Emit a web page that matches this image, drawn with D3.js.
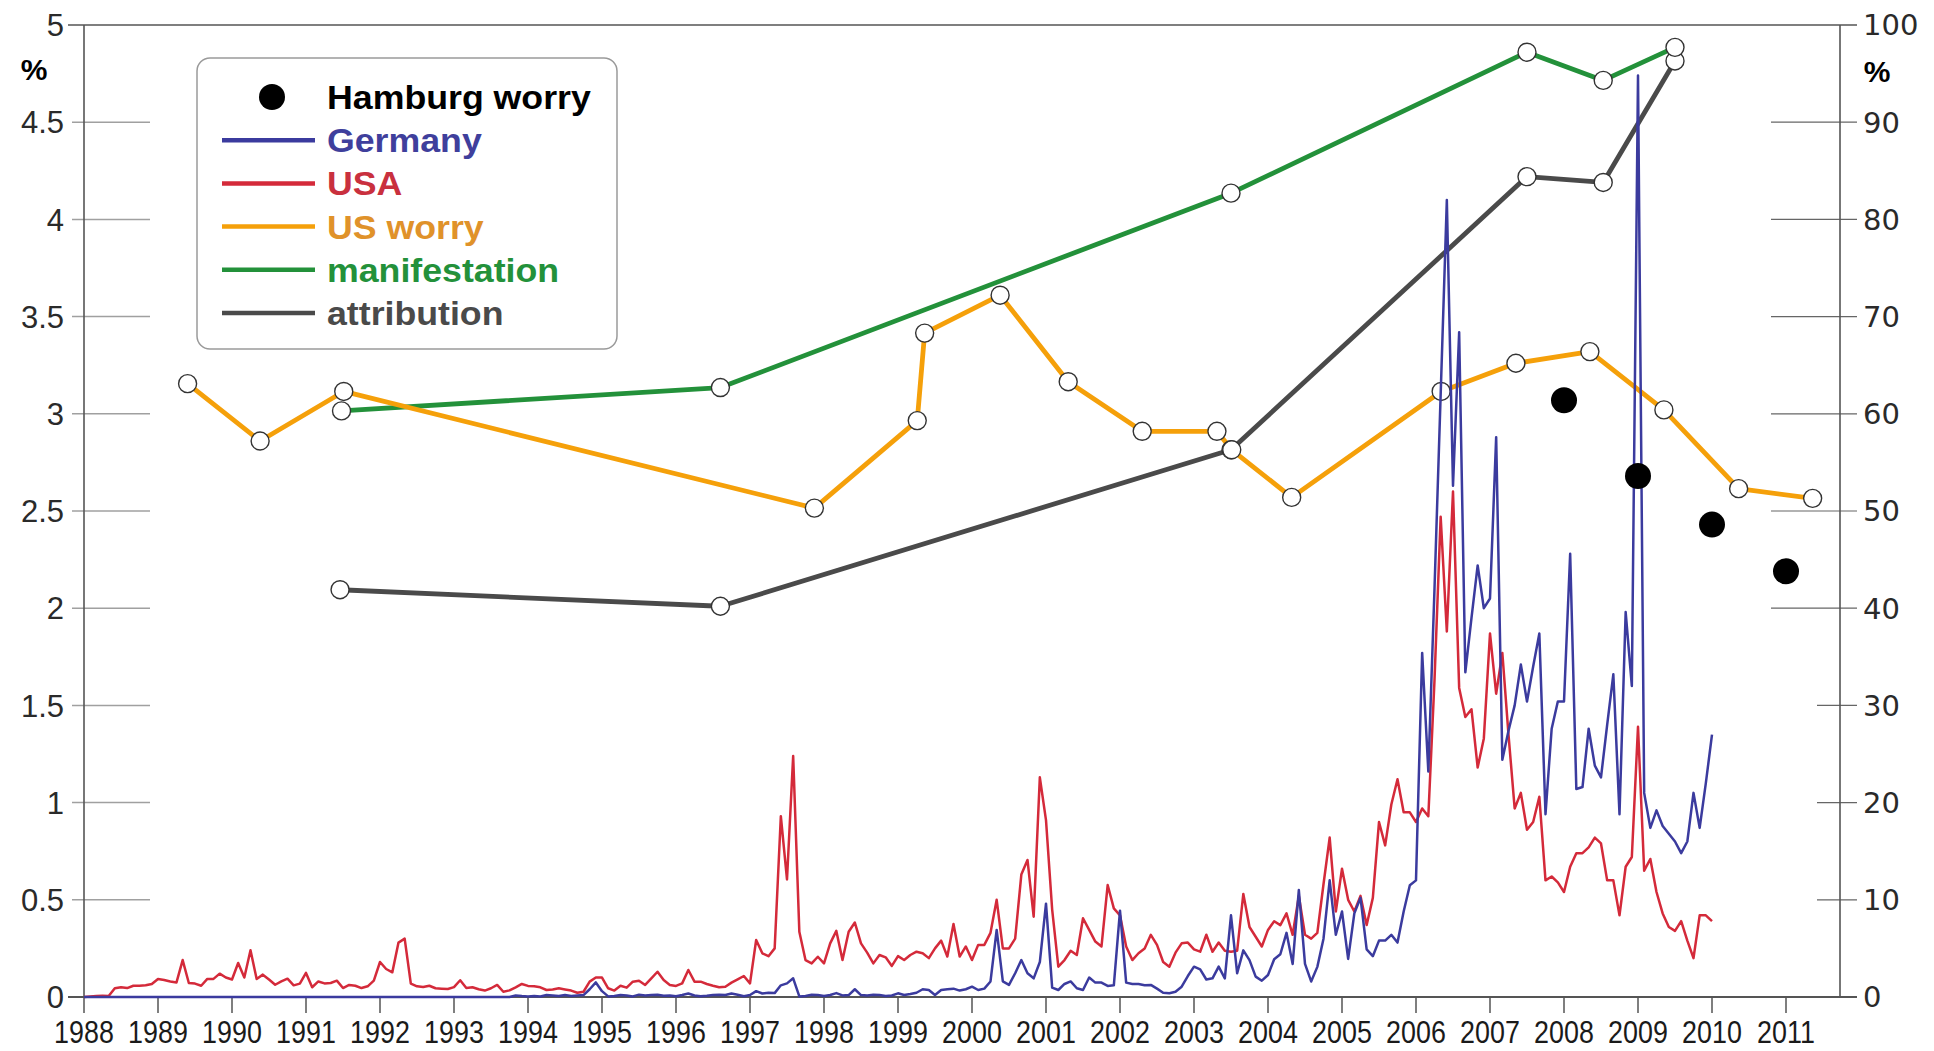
<!DOCTYPE html>
<html><head><meta charset="utf-8">
<script src="https://cdn.jsdelivr.net/npm/d3@7"></script>
<style>body{margin:0;background:#fff}svg{display:block}</style>
</head><body>
<svg id="chart" width="1934" height="1051"></svg>
<script>
// ---------------- DATA ----------------
const startYear = 1988; // monthly series start (January 1988)
const usaMonthly = [
 0.00,0.003,0.005,0.007,0.005,0.045,0.05,0.046,0.058,0.058,0.06,0.067,
 0.093,0.087,0.08,0.075,0.19,0.072,0.069,0.058,0.093,0.093,0.12,0.10,
 0.09,0.175,0.10,0.24,0.093,0.115,0.09,0.063,0.08,0.094,0.06,0.069,
 0.124,0.05,0.08,0.07,0.072,0.084,0.046,0.062,0.058,0.046,0.055,0.084,
 0.18,0.144,0.127,0.28,0.30,0.069,0.055,0.051,0.058,0.045,0.043,0.041,
 0.051,0.086,0.046,0.05,0.04,0.033,0.045,0.062,0.027,0.034,0.05,0.067,
 0.057,0.055,0.05,0.036,0.039,0.045,0.039,0.033,0.022,0.027,0.079,0.10,
 0.10,0.045,0.033,0.058,0.048,0.079,0.084,0.062,0.096,0.13,0.087,0.062,
 0.057,0.07,0.139,0.079,0.079,0.067,0.058,0.05,0.053,0.074,0.091,0.108,
 0.07,0.293,0.225,0.21,0.25,0.93,0.605,1.24,0.336,0.19,0.173,0.207,
 0.173,0.276,0.34,0.19,0.336,0.383,0.276,0.228,0.173,0.216,0.204,0.16,
 0.21,0.19,0.216,0.233,0.225,0.2,0.25,0.29,0.208,0.376,0.208,0.26,
 0.19,0.268,0.268,0.33,0.50,0.25,0.25,0.30,0.63,0.705,0.413,1.13,
 0.91,0.45,0.156,0.19,0.238,0.216,0.405,0.345,0.285,0.26,0.576,0.456,
 0.42,0.26,0.19,0.225,0.25,0.32,0.268,0.18,0.156,0.228,0.276,0.28,
 0.245,0.233,0.32,0.233,0.28,0.238,0.233,0.238,0.53,0.36,0.31,0.26,
 0.345,0.39,0.37,0.43,0.32,0.52,0.32,0.30,0.33,0.58,0.82,0.44,
 0.66,0.50,0.44,0.52,0.37,0.51,0.90,0.78,0.99,1.12,0.95,0.95,
 0.90,0.97,0.93,1.63,2.47,1.88,2.60,1.59,1.44,1.48,1.18,1.33,
 1.87,1.56,1.77,1.35,0.97,1.05,0.86,0.90,1.03,0.60,0.62,0.59,
 0.54,0.67,0.74,0.74,0.77,0.82,0.79,0.60,0.60,0.42,0.67,0.72,
 1.39,0.65,0.71,0.54,0.43,0.36,0.34,0.39,0.29,0.20,0.42,0.42,
 0.39
];
const germanyMonthly = [
 0,0,0,0,0,0,0,0,0,0,0,0,
 0,0,0,0,0,0,0,0,0,0,0,0,
 0,0,0,0,0,0,0,0,0,0,0,0,
 0,0,0,0,0,0,0,0,0,0,0,0,
 0,0,0,0,0,0,0,0,0,0,0,0,
 0,0,0,0,0,0,0,0,0,0,0.008,0.005,
 0.003,0.005,0.003,0.01,0.008,0.005,0.01,0.005,0.008,0.01,0.04,0.075,
 0.03,0.003,0.005,0.01,0.008,0.003,0.012,0.008,0.01,0.012,0.006,0.008,
 0.004,0.01,0.018,0.008,0.004,0.006,0.01,0.012,0.01,0.018,0.012,0.004,
 0.01,0.03,0.018,0.022,0.02,0.06,0.07,0.096,0.003,0.005,0.012,0.01,
 0.005,0.01,0.02,0.008,0.01,0.04,0.01,0.008,0.012,0.01,0.005,0.008,
 0.019,0.01,0.015,0.022,0.04,0.036,0.01,0.036,0.04,0.043,0.033,0.04,
 0.053,0.036,0.043,0.08,0.345,0.08,0.062,0.122,0.19,0.122,0.096,0.18,
 0.48,0.048,0.036,0.067,0.08,0.045,0.036,0.10,0.074,0.074,0.057,0.06,
 0.444,0.074,0.067,0.067,0.06,0.062,0.043,0.022,0.019,0.027,0.053,0.108,
 0.156,0.142,0.09,0.096,0.156,0.096,0.42,0.122,0.24,0.19,0.105,0.084,
 0.113,0.194,0.22,0.33,0.17,0.55,0.17,0.08,0.155,0.30,0.60,0.32,
 0.44,0.196,0.43,0.51,0.245,0.21,0.29,0.29,0.32,0.28,0.44,0.575,
 0.60,1.77,1.16,2.1,3.1,4.10,2.63,3.42,1.67,1.95,2.22,2.0,
 2.05,2.88,1.22,1.37,1.5,1.71,1.52,1.70,1.87,0.94,1.38,1.52,
 1.52,2.28,1.07,1.08,1.38,1.19,1.13,1.40,1.66,0.94,1.98,1.60,
 4.74,1.05,0.87,0.96,0.88,0.84,0.80,0.74,0.80,1.05,0.87,1.10,
 1.35
];
const usWorryYears  = [1989.40,1990.38,1991.51,1997.87,1999.26,1999.36,2000.38,2001.30,2002.30,2003.31,2003.51,2004.32,2006.34,2007.35,2008.35,2009.35,2010.36,2011.36];
const usWorryValues = [63.1,57.2,62.3,50.3,59.3,68.3,72.2,63.3,58.2,58.2,56.3,51.4,62.3,65.2,66.4,60.4,52.3,51.3];
const manifestationYears  = [1991.48,1996.60,2003.50,2007.50,2008.53,2009.50];
const manifestationValues = [60.3,62.7,82.7,97.2,94.3,97.7];
const attributionYears  = [1991.46,1996.60,2003.50,2007.50,2008.53,2009.50];
const attributionValues = [41.9,40.2,56.3,84.4,83.8,96.3];
const hamburgYears  = [2008,2009,2010,2011];
const hamburgValues = [61.4,53.6,48.6,43.8];
const yearTicks  = [1988,1989,1990,1991,1992,1993,1994,1995,1996,1997,1998,1999,2000,2001,2002,2003,2004,2005,2006,2007,2008,2009,2010,2011];
const leftTicks  = [0,0.5,1,1.5,2,2.5,3,3.5,4,4.5,5];
const leftTickLabels = ["0","0.5","1","1.5","2","2.5","3","3.5","4","4.5","5"];
const rightTicks = [0,10,20,30,40,50,60,70,80,90,100];
const legendLabels = ["Hamburg worry","Germany","USA","US worry","manifestation","attribution"];

// ---------------- LAYOUT / STYLE ----------------
const L = 84, R = 1840, T = 25, B = 997;
const C = {germany:"#3b3b9e", usa:"#d42a3a", worry:"#f5a00a", manif:"#23913a", attr:"#4a4a4a", axis:"#555"};
const svg = d3.select("#chart");
const x  = d3.scaleLinear().domain([1988, 1988 + (R - L) / 74]).range([L, R]);
const yL = d3.scaleLinear().domain([0, 5]).range([B, T]);
const yR = d3.scaleLinear().domain([0, 100]).range([B, T]);

const monthly = arr => arr.map((v, i) => ({t: startYear + i / 12, v}));
const zipped = (ys, vs) => ys.map((t, i) => ({t, v: vs[i]}));

// ---------- axes ----------
const g = svg.append("g");
g.selectAll(".lt").data(leftTicks.filter(d => d > 0 && d < 5)).join("line")
  .attr("x1", 72).attr("x2", 150).attr("y1", d => yL(d)).attr("y2", d => yL(d))
  .attr("stroke", "#a0a0a0").attr("stroke-width", 1.5);
g.selectAll(".rt").data(rightTicks.filter(d => d > 0 && d < 100)).join("line")
  .attr("x1", d => d >= 40 ? 1771 : 1817).attr("x2", 1857)
  .attr("y1", d => yR(d)).attr("y2", d => yR(d))
  .attr("stroke", "#666").attr("stroke-width", 1.2);
g.append("line").attr("x1", 68).attr("x2", 1857).attr("y1", yL(5)).attr("y2", yL(5)).attr("stroke", C.axis).attr("stroke-width", 1.6);
g.append("line").attr("x1", 68).attr("x2", 1857).attr("y1", yL(0)).attr("y2", yL(0)).attr("stroke", C.axis).attr("stroke-width", 2);
g.append("line").attr("x1", L).attr("x2", L).attr("y1", T).attr("y2", B).attr("stroke", C.axis).attr("stroke-width", 1.6);
g.append("line").attr("x1", R).attr("x2", R).attr("y1", T).attr("y2", B).attr("stroke", C.axis).attr("stroke-width", 1.6);
g.selectAll(".xt").data(yearTicks).join("line")
  .attr("x1", d => x(d)).attr("x2", d => x(d)).attr("y1", B).attr("y2", B + 16)
  .attr("stroke", C.axis).attr("stroke-width", 1.5);
g.selectAll(".xl").data(yearTicks).join("text")
  .attr("transform", d => `translate(${x(d)},1043) scale(0.84,1)`).attr("text-anchor", "middle")
  .style("font-family", "'Liberation Sans',Arial,sans-serif").style("font-size", "32px").attr("fill", "#1a1a1a")
  .text(d => d);
g.selectAll(".ll").data(leftTicks).join("text")
  .attr("x", 64).attr("y", d => yL(d)).attr("dy", "0.36em").attr("text-anchor", "end")
  .style("font-family", "'Liberation Sans',Arial,sans-serif").style("font-size", "31px").attr("fill", "#2a2a2a")
  .text((d, i) => leftTickLabels[i]);
g.selectAll(".rl").data(rightTicks).join("text")
  .attr("x", 1863).attr("y", d => yR(d)).attr("dy", "0.36em")
  .style("font-family", "'DejaVu Sans',sans-serif").style("font-size", "29px").attr("fill", "#2a2a2a")
  .text(d => d);
svg.append("text").attr("x", 34).attr("y", 80).attr("text-anchor", "middle")
  .style("font-family", "'Liberation Sans',Arial,sans-serif").style("font-weight", "bold").style("font-size", "30px").text("%");
svg.append("text").attr("x", 1877).attr("y", 82).attr("text-anchor", "middle")
  .style("font-family", "'Liberation Sans',Arial,sans-serif").style("font-weight", "bold").style("font-size", "30px").text("%");

// ---------- survey series (right axis) ----------
const lineR = d3.line().x(d => x(d.t)).y(d => yR(d.v));
const surveys = [
  {data: zipped(attributionYears, attributionValues), color: C.attr},
  {data: zipped(manifestationYears, manifestationValues), color: C.manif},
  {data: zipped(usWorryYears, usWorryValues), color: C.worry}
];
surveys.forEach(s => {
  svg.append("path").datum(s.data).attr("d", lineR).attr("fill", "none")
    .attr("stroke", s.color).attr("stroke-width", 4.8).attr("stroke-linejoin", "round");
});
surveys.forEach(s => {
  svg.append("g").selectAll("circle").data(s.data).join("circle")
    .attr("cx", d => x(d.t)).attr("cy", d => yR(d.v)).attr("r", 9)
    .attr("fill", "#fff").attr("stroke", "#333").attr("stroke-width", 1.4);
});

// ---------- monthly media series (left axis) ----------
const lineL = d3.line().x(d => x(d.t)).y(d => yL(d.v));
svg.append("path").datum(monthly(usaMonthly)).attr("d", lineL).attr("fill", "none")
  .attr("stroke", C.usa).attr("stroke-width", 2.5).attr("stroke-linejoin", "round");
svg.append("path").datum(monthly(germanyMonthly)).attr("d", lineL).attr("fill", "none")
  .attr("stroke", C.germany).attr("stroke-width", 2.5).attr("stroke-linejoin", "round");

// ---------- Hamburg worry dots ----------
svg.append("g").selectAll("circle").data(zipped(hamburgYears, hamburgValues)).join("circle")
  .attr("cx", d => x(d.t)).attr("cy", d => yR(d.v)).attr("r", 13).attr("fill", "#000");

// ---------- legend ----------
const lg = svg.append("g");
lg.append("rect").attr("x", 197).attr("y", 58).attr("width", 420).attr("height", 291)
  .attr("rx", 13).attr("fill", "#fff").attr("stroke", "#9a9a9a").attr("stroke-width", 1.5);
const legendLineColors = [null, C.germany, C.usa, C.worry, C.manif, C.attr];
const legendTextColors = ["#000", "#3f3f9c", "#c9303e", "#e0922a", "#23913a", "#4a4a4a"];
legendLabels.forEach((lab, i) => {
  const cy = 97 + i * 43.2;
  if (i === 0) {
    lg.append("circle").attr("cx", 272).attr("cy", cy).attr("r", 13).attr("fill", "#000");
  } else {
    lg.append("line").attr("x1", 222).attr("x2", 315).attr("y1", cy).attr("y2", cy)
      .attr("stroke", legendLineColors[i]).attr("stroke-width", 4.5);
  }
  lg.append("text").attr("transform", `translate(327,${cy + 12}) scale(1.05,1)`)
    .style("font-family", "'Liberation Sans',Arial,sans-serif").style("font-weight", "bold").style("font-size", "34px")
    .attr("fill", legendTextColors[i]).text(lab);
});
</script>
</body></html>
